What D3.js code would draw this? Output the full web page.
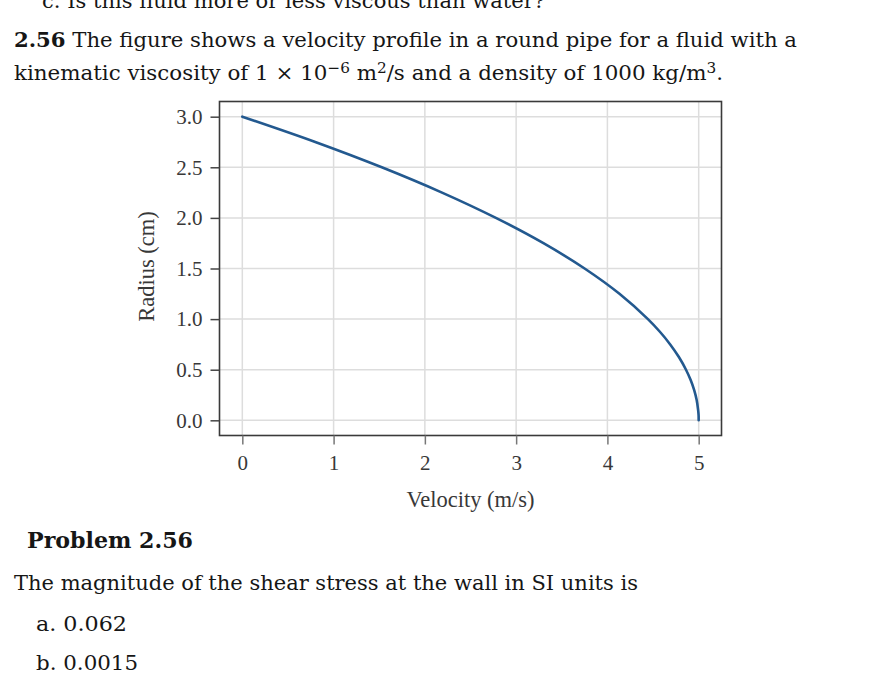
<!DOCTYPE html>
<html>
<head>
<meta charset="utf-8">
<script src="https://cdn.jsdelivr.net/npm/d3@7"></script>
<style>
  html, body { margin: 0; padding: 0; background: #fff; }
  svg { display: block; }
</style>
</head>
<body>
<svg id="chart" width="877" height="681"></svg>
<script>
// ---- data ----
const radiusCm   = [0.00, 0.05, 0.10, 0.20, 0.30, 0.40, 0.50, 0.625, 0.75, 0.875, 1.00, 1.25, 1.50, 1.75, 2.00, 2.25, 2.50, 2.75, 3.00];
const velocityMs = [5.000, 4.999, 4.994, 4.978, 4.950, 4.911, 4.861, 4.783, 4.688, 4.575, 4.444, 4.132, 3.750, 3.299, 2.778, 2.188, 1.528, 0.799, 0.000];
const xTickValues = [0, 1, 2, 3, 4, 5];
const yTickValues = [0.0, 0.5, 1.0, 1.5, 2.0, 2.5, 3.0];
const xTitle = "Velocity (m/s)";
const yTitle = "Radius (cm)";

const topCutText = "c. Is this fluid more or less viscous than water?";
const headLine1Bold = "2.56";
const headLine1 = " The figure shows a velocity profile in a round pipe for a fluid with a";
const headLine2Parts = [
  ["kinematic viscosity of 1 × 10", false],
  ["−6", true],
  [" m", false],
  ["2", true],
  ["/s and a density of 1000 kg/m", false],
  ["3", true],
  [".", false]
];
const problemTitle = "Problem 2.56";
const questionText = "The magnitude of the shear stress at the wall in SI units is";
const answerOptions = ["a. 0.062", "b. 0.0015"];

// ---- layout ----
const svg = d3.select("#chart");
const plot = { left: 219.5, right: 721.5, top: 101.5, bottom: 435.5 };

const x = d3.scaleLinear().domain([-0.25, 5.25]).range([plot.left, plot.right]);
const y = d3.scaleLinear().domain([-0.15, 3.15]).range([plot.bottom, plot.top]);

const bodyFont = "'DejaVu Serif', 'Liberation Serif', serif";
const chartFont = "'Liberation Serif', 'Times New Roman', serif";
const textColor = "#161616";
const chartText = "#383838";

// ---- surrounding text ----
function bodyText(str, xPos, yPos, len, opts = {}) {
  return svg.append("text")
    .attr("x", xPos).attr("y", yPos)
    .attr("font-family", bodyFont)
    .attr("font-size", opts.size || 21)
    .attr("font-weight", opts.weight || "normal")
    .attr("fill", textColor)
    .attr("textLength", len)
    .attr("lengthAdjust", "spacingAndGlyphs")
    .text(str);
}

bodyText(topCutText, 42, 8, 503);

const l1 = svg.append("text")
  .attr("x", 14).attr("y", 47)
  .attr("font-family", bodyFont).attr("font-size", 21)
  .attr("fill", textColor)
  .attr("textLength", 783).attr("lengthAdjust", "spacingAndGlyphs");
l1.append("tspan").attr("font-weight", "bold").text(headLine1Bold);
l1.append("tspan").text(headLine1);

const l2 = svg.append("text")
  .attr("x", 14).attr("y", 80)
  .attr("font-family", bodyFont).attr("font-size", 21)
  .attr("fill", textColor)
  .attr("textLength", 709).attr("lengthAdjust", "spacingAndGlyphs");
headLine2Parts.forEach(([t, sup]) => {
  const ts = l2.append("tspan").text(t);
  if (sup) ts.attr("font-size", 15).attr("baseline-shift", "45%");
});

bodyText(problemTitle, 27, 548, 166, { weight: "bold", size: 22 });
bodyText(questionText, 14, 590, 624);
bodyText(answerOptions[0], 36, 631, 91);
bodyText(answerOptions[1], 36, 670, 102);

// ---- grid ----
const g = svg.append("g");
g.append("g").selectAll("line").data(xTickValues).join("line")
  .attr("x1", d => x(d)).attr("x2", d => x(d))
  .attr("y1", plot.top).attr("y2", plot.bottom)
  .attr("stroke", "#dddddd").attr("stroke-width", 1.5);
g.append("g").selectAll("line").data(yTickValues).join("line")
  .attr("x1", plot.left).attr("x2", plot.right)
  .attr("y1", d => y(d)).attr("y2", d => y(d))
  .attr("stroke", "#dddddd").attr("stroke-width", 1.5);

// ---- curve ----
const pts = radiusCm.map((r, i) => ({ r, u: velocityMs[i] }));
const line = d3.line()
  .x(d => x(d.u))
  .y(d => y(d.r))
  .curve(d3.curveCatmullRom.alpha(0.5));
g.append("path")
  .datum(pts)
  .attr("d", line)
  .attr("fill", "none")
  .attr("stroke", "#23598f")
  .attr("stroke-width", 2.6)
  .attr("stroke-linecap", "round");

// ---- frame ----
g.append("rect")
  .attr("x", plot.left).attr("y", plot.top)
  .attr("width", plot.right - plot.left).attr("height", plot.bottom - plot.top)
  .attr("fill", "none").attr("stroke", "#3a3a3a").attr("stroke-width", 1.6);

// ---- axes ----
const yAxis = d3.axisLeft(y).tickValues(yTickValues)
  .tickFormat(d3.format(".1f")).tickSize(9).tickPadding(8);
const yG = svg.append("g").attr("transform", `translate(${plot.left},0)`).call(yAxis);
yG.select(".domain").remove();
yG.selectAll(".tick line").attr("stroke", "#444").attr("stroke-width", 1.5);
yG.selectAll(".tick text").attr("font-family", chartFont).attr("font-size", 21).attr("fill", chartText);

const xAxis = d3.axisBottom(x).tickValues(xTickValues)
  .tickFormat(d3.format("d")).tickSize(9).tickPadding(11);
const xG = svg.append("g").attr("transform", `translate(0,${plot.bottom})`).call(xAxis);
xG.select(".domain").remove();
xG.selectAll(".tick line").attr("stroke", "#777").attr("stroke-width", 1.5);
xG.selectAll(".tick text").attr("font-family", chartFont).attr("font-size", 21).attr("fill", chartText);

// ---- axis titles ----
svg.append("text")
  .attr("x", (plot.left + plot.right) / 2).attr("y", 507)
  .attr("text-anchor", "middle")
  .attr("font-family", chartFont).attr("font-size", 22.5).attr("fill", chartText)
  .text(xTitle);

svg.append("text")
  .attr("transform", `translate(154,${(plot.top + plot.bottom) / 2 - 2}) rotate(-90)`)
  .attr("text-anchor", "middle")
  .attr("font-family", chartFont).attr("font-size", 22.5).attr("fill", chartText)
  .text(yTitle);
</script>
</body>
</html>
